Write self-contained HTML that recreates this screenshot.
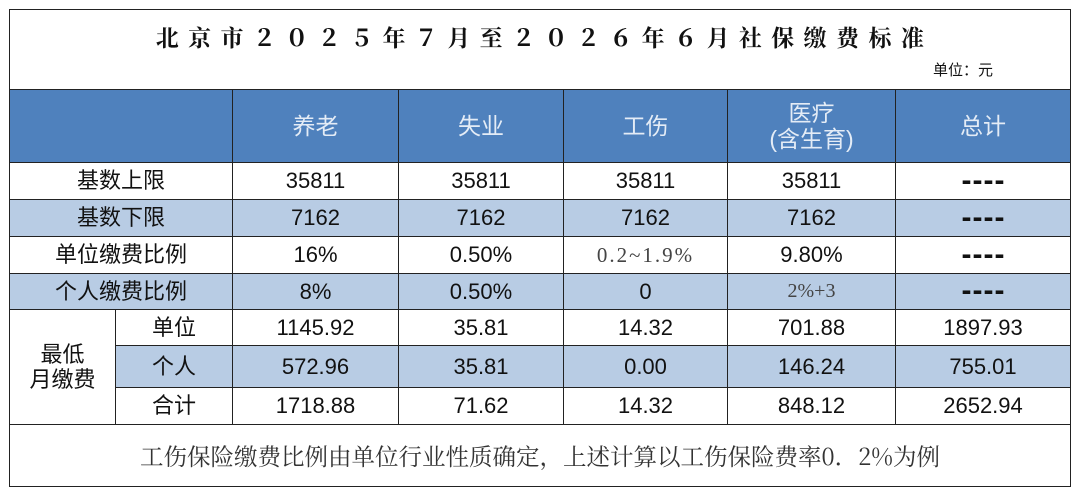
<!DOCTYPE html>
<html><head><meta charset="utf-8"><style>
body{margin:0;width:1080px;height:496px;background:#fff;position:relative;overflow:hidden;font-family:"Liberation Sans","Noto Sans CJK SC",sans-serif;color:#111}
.c{position:absolute;box-sizing:border-box;border:1.5px solid #222;display:flex;align-items:center;justify-content:center;font-size:22px;text-align:center;line-height:1.15}
.h{background:#4f81bd;color:#e4ecf6;font-size:23px}
.l{background:#b8cce4}
.s{font-family:"Liberation Serif","Noto Serif CJK SC",serif;color:#444}
.d{font-weight:bold;font-size:30px;letter-spacing:1px;padding-left:1px}
</style></head><body>
<div class="c" style="left:9px;top:9px;width:1062px;height:81px;align-items:flex-start"></div>
<div style="position:absolute;left:0;width:1080px;top:20px;text-align:center;font-family:'Noto Serif CJK SC',serif;font-weight:bold;font-size:23px;letter-spacing:9.4px;text-indent:9px">北京市２０２５年７月至２０２６年６月社保缴费标准</div>
<div style="position:absolute;left:933px;top:59px;font-size:15px">单位：元</div>

<div class="c h" style="left:9px;top:89px;width:224px;height:74px"></div>
<div class="c h" style="left:232px;top:89px;width:167px;height:74px">养老</div>
<div class="c h" style="left:398px;top:89px;width:166px;height:74px">失业</div>
<div class="c h" style="left:563px;top:89px;width:165px;height:74px">工伤</div>
<div class="c h" style="left:727px;top:89px;width:169px;height:74px">医疗<br>(含生育)</div>
<div class="c h" style="left:895px;top:89px;width:176px;height:74px">总计</div>

<div class="c" style="left:9px;top:162px;width:224px;height:38px">基数上限</div>
<div class="c" style="left:232px;top:162px;width:167px;height:38px">35811</div>
<div class="c" style="left:398px;top:162px;width:166px;height:38px">35811</div>
<div class="c" style="left:563px;top:162px;width:165px;height:38px">35811</div>
<div class="c" style="left:727px;top:162px;width:169px;height:38px">35811</div>
<div class="c d" style="left:895px;top:162px;width:176px;height:38px">----</div>

<div class="c l" style="left:9px;top:199px;width:224px;height:38px">基数下限</div>
<div class="c l" style="left:232px;top:199px;width:167px;height:38px">7162</div>
<div class="c l" style="left:398px;top:199px;width:166px;height:38px">7162</div>
<div class="c l" style="left:563px;top:199px;width:165px;height:38px">7162</div>
<div class="c l" style="left:727px;top:199px;width:169px;height:38px">7162</div>
<div class="c l d" style="left:895px;top:199px;width:176px;height:38px">----</div>

<div class="c" style="left:9px;top:236px;width:224px;height:38px">单位缴费比例</div>
<div class="c" style="left:232px;top:236px;width:167px;height:38px">16%</div>
<div class="c" style="left:398px;top:236px;width:166px;height:38px">0.50%</div>
<div class="c s" style="left:563px;top:236px;width:165px;height:38px;font-size:21px;letter-spacing:2px">0.2~1.9%</div>
<div class="c" style="left:727px;top:236px;width:169px;height:38px">9.80%</div>
<div class="c d" style="left:895px;top:236px;width:176px;height:38px">----</div>

<div class="c l" style="left:9px;top:273px;width:224px;height:37px">个人缴费比例</div>
<div class="c l" style="left:232px;top:273px;width:167px;height:37px">8%</div>
<div class="c l" style="left:398px;top:273px;width:166px;height:37px">0.50%</div>
<div class="c l" style="left:563px;top:273px;width:165px;height:37px">0</div>
<div class="c l s" style="left:727px;top:273px;width:169px;height:37px;font-size:20px">2%+3</div>
<div class="c l d" style="left:895px;top:273px;width:176px;height:37px">----</div>

<div class="c" style="left:9px;top:309px;width:107px;height:116px">最低<br>月缴费</div>

<div class="c" style="left:115px;top:309px;width:118px;height:37px">单位</div>
<div class="c" style="left:232px;top:309px;width:167px;height:37px">1145.92</div>
<div class="c" style="left:398px;top:309px;width:166px;height:37px">35.81</div>
<div class="c" style="left:563px;top:309px;width:165px;height:37px">14.32</div>
<div class="c" style="left:727px;top:309px;width:169px;height:37px">701.88</div>
<div class="c" style="left:895px;top:309px;width:176px;height:37px">1897.93</div>

<div class="c l" style="left:115px;top:345px;width:118px;height:43px">个人</div>
<div class="c l" style="left:232px;top:345px;width:167px;height:43px">572.96</div>
<div class="c l" style="left:398px;top:345px;width:166px;height:43px">35.81</div>
<div class="c l" style="left:563px;top:345px;width:165px;height:43px">0.00</div>
<div class="c l" style="left:727px;top:345px;width:169px;height:43px">146.24</div>
<div class="c l" style="left:895px;top:345px;width:176px;height:43px">755.01</div>

<div class="c" style="left:115px;top:387px;width:118px;height:38px">合计</div>
<div class="c" style="left:232px;top:387px;width:167px;height:38px">1718.88</div>
<div class="c" style="left:398px;top:387px;width:166px;height:38px">71.62</div>
<div class="c" style="left:563px;top:387px;width:165px;height:38px">14.32</div>
<div class="c" style="left:727px;top:387px;width:169px;height:38px">848.12</div>
<div class="c" style="left:895px;top:387px;width:176px;height:38px">2652.94</div>

<div class="c" style="left:9px;top:424px;width:1062px;height:63px;font-size:23.5px;color:#333;font-family:'Noto Serif CJK SC',serif">工伤保险缴费比例由单位行业性质确定，上述计算以工伤保险费率0．2%为例</div>
</body></html>
